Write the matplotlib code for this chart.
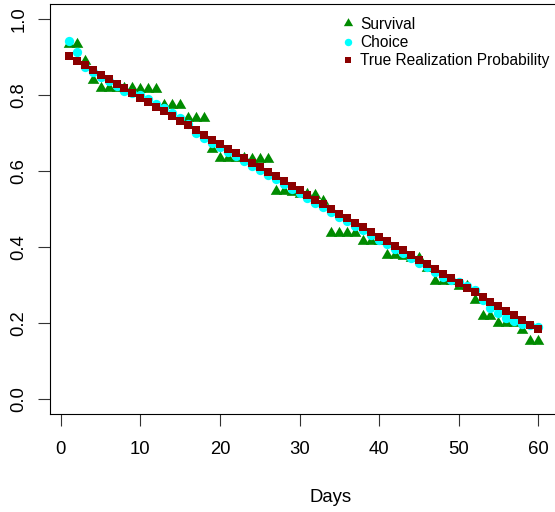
import numpy as np
import matplotlib
matplotlib.use("Agg")
import matplotlib.pyplot as plt
from matplotlib.path import Path

plt.rcParams['font.family'] = ['Liberation Sans', 'DejaVu Sans']

# data
days = list(range(1, 61))

survival = [0.935, 0.935, 0.890, 0.840, 0.820, 0.820, 0.820, 0.820, 0.820, 0.815,
            0.815, 0.815, 0.775, 0.775, 0.775, 0.740, 0.740, 0.740, 0.657, 0.635,
            0.635, 0.635, 0.635, 0.632, 0.632, 0.632, 0.547, 0.547, 0.545, 0.540,
            0.540, 0.538, 0.520, 0.438, 0.438, 0.438, 0.438, 0.415, 0.415, 0.415,
            0.380, 0.380, 0.375, 0.370, 0.370, 0.345, 0.311, 0.311, 0.310, 0.297,
            0.297, 0.259, 0.218, 0.218, 0.201, 0.201, 0.200, 0.180, 0.151, 0.151]

choice = [0.942, 0.914, 0.873, 0.860, 0.848, 0.837, 0.825, 0.812, 0.805, 0.800,
          0.790, 0.777, 0.765, 0.754, 0.740, 0.725, 0.700, 0.688, 0.675, 0.663,
          0.651, 0.639, 0.627, 0.614, 0.602, 0.590, 0.578, 0.566, 0.553, 0.541,
          0.529, 0.517, 0.505, 0.492, 0.480, 0.468, 0.456, 0.444, 0.431, 0.419,
          0.407, 0.395, 0.383, 0.370, 0.358, 0.346, 0.334, 0.322, 0.312, 0.309,
          0.296, 0.286, 0.259, 0.240, 0.225, 0.214, 0.205, 0.197, 0.194, 0.188]

true_prob = [0.903, 0.891, 0.879, 0.866, 0.854, 0.842, 0.830, 0.818, 0.805, 0.793,
             0.781, 0.769, 0.757, 0.744, 0.732, 0.720, 0.708, 0.696, 0.683, 0.671,
             0.659, 0.647, 0.635, 0.622, 0.610, 0.598, 0.586, 0.574, 0.561, 0.549,
             0.537, 0.525, 0.513, 0.500, 0.488, 0.476, 0.464, 0.452, 0.439, 0.427,
             0.415, 0.403, 0.391, 0.378, 0.366, 0.354, 0.342, 0.330, 0.317, 0.305,
             0.293, 0.281, 0.269, 0.256, 0.244, 0.232, 0.220, 0.208, 0.195, 0.183]

labels = ['Survival', 'Choice', 'True Realization Probability']
colors = ['#008B00', '#00FFFF', '#8B0000']

# R style filled triangle (pch 17), centred on its centroid
r_tri = Path([(0, 1.555), (1.347, -0.778), (-1.347, -0.778), (0, 1.555)], closed=True)

fig = plt.figure(figsize=(5.55, 5.12), dpi=100)
# the plot box runs a little past the right edge of the picture, as in the reference
ax = fig.add_axes([50 / 555, 98 / 512, 507 / 555, 410 / 512])

ax.plot(days, survival, linestyle='none', marker=r_tri, markersize=9.6,
        color=colors[0], markeredgewidth=0, label=labels[0])
ax.plot(days, choice, linestyle='none', marker='o', markersize=6.7,
        color=colors[1], markeredgewidth=0, label=labels[1])
ax.plot(days, true_prob, linestyle='none', marker='s', markersize=5.8,
        color=colors[2], markeredgewidth=0, label=labels[2])

ax.set_xlim(-1.36, 62.36)
ax.set_ylim(-0.04, 1.04)
ax.set_xticks([0, 10, 20, 30, 40, 50, 60])
ax.set_yticks([0.0, 0.2, 0.4, 0.6, 0.8, 1.0])
ax.set_yticklabels(['0.0', '0.2', '0.4', '0.6', '0.8', '1.0'])

for s in ax.spines.values():
    s.set_linewidth(0.8)
ax.spines['right'].set_visible(False)

ax.tick_params(axis='both', length=8.3, width=0.8, labelsize=13.3, color='#333333')
ax.tick_params(axis='x', pad=11)
ax.tick_params(axis='y', pad=8, labelrotation=90)
for lab in ax.get_yticklabels():
    lab.set_va('center')

ax.set_xlabel('Days', fontsize=13.3)
ax.xaxis.set_label_coords(0.554, -0.183)

leg = ax.legend(loc='upper left', bbox_to_anchor=(0.557, 0.996), frameon=False,
                fontsize=11.2, markerscale=0.8, handlelength=0.6,
                handletextpad=0.5, labelspacing=0.22, borderaxespad=0.3)

fig.savefig('out.png', dpi=100)
